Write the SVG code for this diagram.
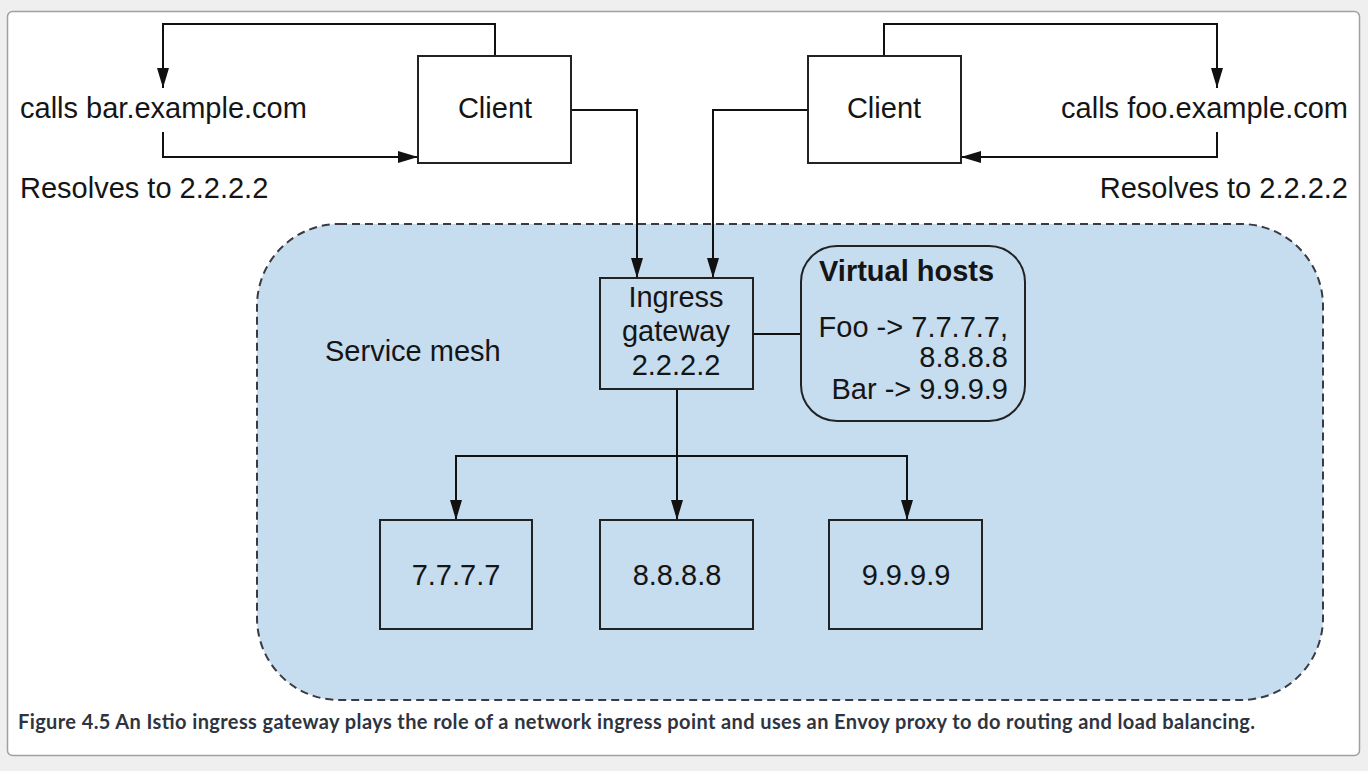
<svg xmlns="http://www.w3.org/2000/svg" width="1368" height="771" viewBox="0 0 1368 771">
<defs>
<marker id="arr" markerWidth="20" markerHeight="12" refX="10" refY="5" orient="auto" markerUnits="userSpaceOnUse" viewBox="0 0 10 10" preserveAspectRatio="none">
<path d="M0,0 L10,5 L0,10 Z" fill="#111"/>
</marker>
<style>
.t{font-family:"Liberation Sans",Arial,sans-serif;font-size:29px;fill:#151515}
.c{text-anchor:middle}
.r{text-anchor:end}
.box{fill:#fff;stroke:#222;stroke-width:2}
.mbox{fill:#c6dcef;stroke:#222;stroke-width:2}
.ln{fill:none;stroke:#111;stroke-width:2}
.ar{marker-end:url(#arr)}
</style>
</defs>
<rect x="0" y="0" width="1368" height="771" fill="#efefef"/>
<rect x="7.5" y="11.5" width="1352" height="744" rx="5" fill="#fff" stroke="#a0a0a0" stroke-width="1.5"/>

<g id="service-mesh">
<rect x="257" y="224" width="1066" height="476" rx="82" fill="#c6dcef" stroke="#3a3a44" stroke-width="2" stroke-dasharray="8,5"/>
<text class="t" x="325" y="361" font-size="28">Service mesh</text>
</g>

<g id="connectors">
<path class="ln ar" d="M495,56 V24 H163 V88"/>
<path class="ln ar" d="M163,132 V157 H418"/>
<path class="ln ar" d="M571,110 H637 V278"/>
<path class="ln ar" d="M884,56 V24 H1217 V88"/>
<path class="ln ar" d="M1217,132 V157 H961"/>
<path class="ln ar" d="M808,110 H713 V278"/>
<path class="ln" d="M753,334 H801"/>
<path class="ln ar" d="M677,389 V520"/>
<path class="ln ar" d="M677,456 H456 V520"/>
<path class="ln ar" d="M677,456 H907 V520"/>
</g>

<g id="bar-labels">
<text class="t" x="20" y="118">calls bar.example.com</text>
<text class="t" x="20" y="198">Resolves to 2.2.2.2</text>
</g>
<g id="foo-labels">
<text class="t r" x="1348" y="118">calls foo.example.com</text>
<text class="t r" x="1348" y="198">Resolves to 2.2.2.2</text>
</g>

<g id="client-left">
<rect class="box" x="418" y="56" width="153" height="107"/>
<text class="t c" x="495" y="118">Client</text>
</g>
<g id="client-right">
<rect class="box" x="808" y="56" width="153" height="107"/>
<text class="t c" x="884" y="118">Client</text>
</g>

<g id="ingress-gateway">
<rect class="mbox" x="600" y="278" width="153" height="111"/>
<text class="t c" x="676" y="307">Ingress</text>
<text class="t c" x="676" y="341">gateway</text>
<text class="t c" x="676" y="375">2.2.2.2</text>
</g>

<g id="virtual-hosts">
<rect class="mbox" x="801" y="246" width="224" height="175" rx="36"/>
<text class="t" x="819" y="281" font-weight="bold">Virtual hosts</text>
<text class="t r" x="1008" y="337">Foo -&gt; 7.7.7.7,</text>
<text class="t r" x="1008" y="367">8.8.8.8</text>
<text class="t r" x="1008" y="399">Bar -&gt; 9.9.9.9</text>
</g>

<g id="host-7777">
<rect class="mbox" x="380" y="520" width="152" height="109"/>
<text class="t c" x="456" y="585">7.7.7.7</text>
</g>
<g id="host-8888">
<rect class="mbox" x="600" y="520" width="153" height="109"/>
<text class="t c" x="677" y="585">8.8.8.8</text>
</g>
<g id="host-9999">
<rect class="mbox" x="829" y="520" width="153" height="109"/>
<text class="t c" x="906" y="585">9.9.9.9</text>
</g>

<g id="caption">
<text x="18" y="729" font-family="Lato,'Open Sans',sans-serif" font-weight="bold" font-size="20" fill="#2e3440" textLength="1237" lengthAdjust="spacing">Figure 4.5 An Istio ingress gateway plays the role of a network ingress point and uses an Envoy proxy to do routing and load balancing.</text>
</g>
</svg>
